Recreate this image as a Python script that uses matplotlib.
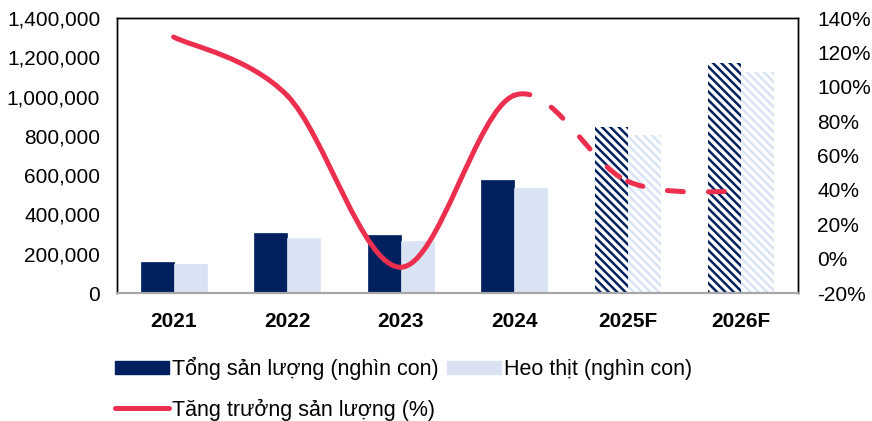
import numpy as np
import matplotlib.pyplot as plt
from matplotlib.path import Path
from matplotlib.patches import PathPatch, Patch
from matplotlib.lines import Line2D
from matplotlib.ticker import FuncFormatter, MultipleLocator

plt.rcParams['font.family'] = ['Liberation Sans', 'DejaVu Sans']
plt.rcParams['hatch.linewidth'] = 1.8

# San luong heo (nghin con) va tang truong
years = ['2021', '2022', '2023', '2024', '2025F', '2026F']
tong_san_luong = [158000, 305000, 295000, 575000, 845000, 1172000]
heo_thit = [148000, 280000, 265000, 535000, 805000, 1125000]
tang_truong = [129, 95, -5, 95, 45, 39]
n_actual = 4  # so nam thuc te, con lai la du phong

NAVY = '#002060'
LIGHT = '#DAE3F3'
RED = '#EC2F4F'

fig = plt.figure(figsize=(8.72, 4.21), dpi=100)
ax = fig.add_axes([0.134, 0.304, 0.781, 0.653])
ax2 = ax.twinx()

x = np.arange(len(years))
w = 0.29
for i in x:
    if i < n_actual:
        ax.bar(i - w / 2, tong_san_luong[i], w, color=NAVY, edgecolor=NAVY, lw=0.5)
        ax.bar(i + w / 2, heo_thit[i], w, color=LIGHT, edgecolor=LIGHT, lw=0.5)
    else:
        ax.bar(i - w / 2, tong_san_luong[i], w, color='white', edgecolor=NAVY,
               hatch='\\\\\\\\', lw=0)
        ax.bar(i + w / 2, heo_thit[i], w, color='white', edgecolor=LIGHT,
               hatch='\\\\\\\\', lw=0)

ax.set_xlim(-0.5, len(years) - 0.5)
ax.set_ylim(0, 1400000)
ax.yaxis.set_major_locator(MultipleLocator(200000))
ax.yaxis.set_major_formatter(FuncFormatter(lambda v, p: f'{int(v):,}'))
ax.set_xticks(x)
ax.set_xticklabels(years, fontweight='bold')

ax2.set_ylim(-20, 140)
ax2.yaxis.set_major_locator(MultipleLocator(20))
ax2.yaxis.set_major_formatter(FuncFormatter(lambda v, p: f'{int(v)}%'))


# duong cong muot kieu Excel (Bezier, Catmull-Rom)
def smooth_segments(xs, ys):
    pts = np.column_stack([xs, ys]).astype(float)
    n = len(pts)
    segs = []
    for k in range(n - 1):
        p0 = pts[max(k - 1, 0)]
        p1 = pts[k]
        p2 = pts[k + 1]
        p3 = pts[min(k + 2, n - 1)]
        c1 = p1 + (p2 - p0) / 6
        c2 = p2 - (p3 - p1) / 6
        segs.append([p1, c1, c2, p2])
    return segs


LW = 3.6
segs = smooth_segments(x, tang_truong)
for k, seg in enumerate(segs):
    path = Path(seg, [Path.MOVETO, Path.CURVE4, Path.CURVE4, Path.CURVE4])
    ls = '-' if k < n_actual - 1 else (0, (3.2, 5.0))
    ax2.add_patch(PathPatch(path, fill=False, edgecolor=RED, lw=LW,
                            linestyle=ls, capstyle='round', joinstyle='round'))

for a in (ax, ax2):
    a.tick_params(length=0, labelsize=15)
    for s in ('left', 'right', 'top'):
        a.spines[s].set_color('black')
        a.spines[s].set_linewidth(1.0)
    a.spines['bottom'].set_color('#A6A6A6')
    a.spines['bottom'].set_linewidth(1.5)
ax.tick_params(axis='y', pad=12)
ax.tick_params(axis='x', pad=14, labelsize=15)
ax2.tick_params(axis='y', pad=14)

handles = [
    Patch(facecolor=NAVY, edgecolor=NAVY),
    Line2D([0], [0], color=RED, lw=LW, solid_capstyle='round'),
    Patch(facecolor=LIGHT, edgecolor=LIGHT),
]
labels = ['Tổng sản lượng (nghìn con)', 'Tăng trưởng sản lượng (%)',
          'Heo thịt (nghìn con)']
fig.legend(handles, labels, ncol=2, loc='upper left',
           bbox_to_anchor=(0.132, 0.152), frameon=False,
           fontsize=15.5, handlelength=2.5, handleheight=0.6,
           handletextpad=0.15, columnspacing=0.37, labelspacing=0.85,
           borderpad=0, borderaxespad=0)

fig.savefig('out.png', dpi=100)
